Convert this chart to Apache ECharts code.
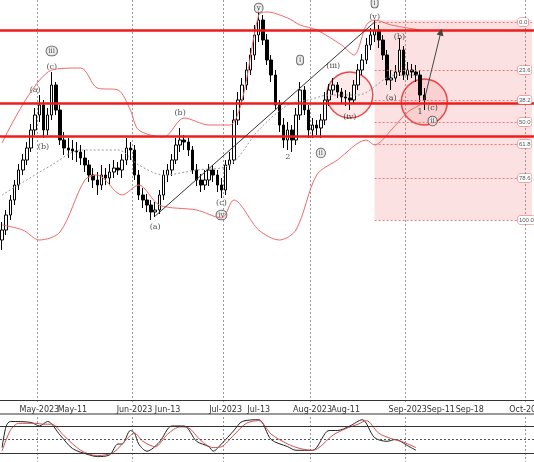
<!DOCTYPE html>
<html>
<head>
<meta charset="utf-8">
<script src="https://cdn.jsdelivr.net/npm/echarts@6/dist/echarts.min.js"></script>
<style>html,body{margin:0;padding:0;background:#fff;overflow:hidden}#main{width:534px;height:462px}</style>
</head>
<body>
<div id="main"></div>
<script>
// trading days from Apr-18-2023; after the last candle the projection uses calendar days
var startDate = '2023-04-18';
var calendarFrom = '2023-09-09';
var dayCount = 129;

var axisLabels = {
  '2023-05-01': 'May-2023', '2023-05-11': 'May-11', '2023-06-01': 'Jun-2023', '2023-06-13': 'Jun-13',
  '2023-07-03': 'Jul-2023', '2023-07-13': 'Jul-13', '2023-08-01': 'Aug-2023', '2023-08-11': 'Aug-11',
  '2023-09-01': 'Sep-2023', '2023-09-11': 'Sep-11', '2023-09-18': 'Sep-18', '2023-10-02': 'Oct-2023'
};
var monthStarts = ['2023-05-01', '2023-06-01', '2023-07-03', '2023-08-01', '2023-09-01', '2023-10-02'];

// [open, close, low, high]
var candles = [
  [160,170,150,178],[170,185,165,190],[185,200,180,205],[200,215,195,220],[215,230,210,236],
  [230,240,225,246],[240,252,235,258],[252,270,248,276],[270,285,265,292],[285,295,278,305],
  [295,270,262,300],[270,285,265,292],[285,315,280,328],[315,290,285,318],[290,260,255,295],
  [260,252,245,268],[252,250,242,262],[251,249,240,260],[249,248,238,258],[248,242,235,255],
  [242,235,228,250],[235,225,218,240],[225,220,212,232],[220,215,205,228],[215,225,210,235],
  [225,222,215,232],[222,228,215,236],[228,232,222,240],[232,230,225,238],[230,240,222,246],
  [240,252,235,262],[252,250,240,258],[250,225,220,255],[225,205,200,230],[205,200,192,212],
  [200,195,188,206],[195,188,180,200],[188,190,183,198],[190,205,186,210],[205,225,200,230],
  [225,230,218,236],[230,240,224,246],[240,255,236,262],[255,260,248,272],[260,258,250,265],
  [258,250,244,262],[250,230,226,254],[230,220,214,236],[220,215,208,226],[215,220,210,230],
  [220,230,214,236],[230,225,218,235],[225,215,208,230],[215,210,202,222],[210,235,205,240],
  [235,240,230,248],[240,280,236,290],[280,300,275,308],[300,315,295,322],[315,330,310,338],
  [330,345,325,352],[345,365,340,375],[365,380,358,392],[380,360,355,385],[360,340,335,366],
  [340,325,318,345],[325,295,290,330],[295,275,268,300],[275,260,252,282],[260,270,250,278],
  [270,260,248,275],[260,285,255,292],[285,310,280,318],[310,290,285,314],[290,270,262,295],
  [270,275,262,282],[275,272,265,280],[272,280,262,286],[280,300,275,308],[300,310,294,316],
  [310,315,305,322],[315,308,302,318],[308,303,296,312],[303,302,294,310],[302,300,290,308],
  [300,315,296,320],[315,330,310,336],[330,340,325,346],[340,355,336,362],[355,365,350,372],
  [365,370,358,380],[370,360,352,375],[360,345,340,365],[345,320,315,350],[320,322,310,330],
  [322,328,318,335],[328,350,324,362],[350,325,320,354],[325,330,320,338],[330,328,322,336],
  [328,325,318,335],[325,305,298,330],[305,300,290,312]
];

var bbUpper = [[0,257],[12,330],[19,332],[23,312],[28,310],[31,290],[33,270],[39,263],[44,282],[50,275],[55,275],[58,300],[62,385],[64,388],[69,382],[72,375],[76,370],[82,355],[85,345],[88,375],[90,380],[94,375],[101,370]];
var bbLower = [[0,175],[5,170],[9,160],[14,168],[20,220],[23,225],[29,205],[33,215],[38,195],[47,190],[53,182],[56,200],[62,170],[67,160],[71,170],[76,225],[81,240],[88,260],[90,255],[94,270],[98,288],[101,295]];
var bbMiddle = [[0,205],[12,235],[19,250],[28,250],[33,235],[39,225],[47,230],[55,235],[62,270],[69,295],[74,300],[79,305],[86,305],[95,325],[101,325]];

var hLevels = [370, 297, 264];
var fibLevels = [378, 330, 300, 278, 256, 222, 180];
var fibNames = ['0.0', '23.6', '38.2', '50.0', '61.8', '78.6', '100.0'];

var waveLabels = [
  [8,310,'(a)'],[10,253,'(b)'],[12,333,'(c)'],[12,349,'iii',1],[37,173,'(a)'],[43,287,'(b)'],
  [53,197,'(c)'],[53,185,'iv',1],[62,392,'v',1],[69,243,'2'],[72,340,'i',1],[77,247,'ii',1],
  [80,334,'(iii)'],[84,283,'(iv)'],[90,383,'(v)'],[90,397,'i',1],[94,302,'(a)'],[96,363,'(b)'],
  [104,292,'(c)'],[104,279,'ii',1],[101,288,'1']
];
var circles = [[84,305],[102,298]];

var stochK = [[0,32],[1,80],[2,90],[7,88],[9,80],[11,90],[14,60],[17,30],[21,16],[23,12],[26,16],[28,40],[29,40],[31,70],[32,64],[33,40],[35,24],[38,44],[41,80],[44,80],[47,46],[50,34],[51,24],[53,40],[56,70],[58,90],[62,94],[65,50],[69,34],[71,26],[75,26],[79,70],[81,70],[84,80],[87,94],[90,54],[93,46],[95,50],[98,36],[100,26]];
var stochD = [[0,25],[2,70],[4,86],[8,86],[10,84],[12,84],[15,58],[19,26],[23,14],[27,22],[30,50],[32,64],[34,46],[37,34],[40,62],[43,78],[45,76],[48,48],[51,32],[53,34],[56,60],[59,86],[62,92],[65,62],[69,40],[72,30],[75,26],[80,60],[83,74],[86,84],[88,92],[91,64],[94,52],[97,44],[100,32]];

var days = [];
var d = new Date(startDate + 'T00:00:00Z');
while (days.length < dayCount) {
  var s = d.toISOString().slice(0, 10);
  var wd = d.getUTCDay();
  if (s >= calendarFrom || (wd !== 0 && wd !== 6)) days.push(s);
  d.setUTCDate(d.getUTCDate() + 1);
}

var chart = echarts.init(document.getElementById('main'));
var font = 'DejaVu Sans';
var gridSplit = {
  show: true,
  interval: function (i, v) { return monthStarts.indexOf(v) >= 0; },
  lineStyle: { color: '#999', type: [2, 2], width: 1 }
};

var option = {
  animation: false,
  grid: [
    { left: 0, right: 0, top: 0, height: 404, outerBoundsMode: 'none' },
    { left: 0, right: 0, top: 417, height: 45, outerBoundsMode: 'none' }
  ],
  xAxis: [{
    type: 'category', data: days, gridIndex: 0,
    axisLine: { lineStyle: { color: '#333' } },
    axisTick: { show: false },
    axisLabel: {
      interval: 0,
      formatter: function (v) { return axisLabels[v] || ''; },
      hideOverlap: false,
      fontSize: 8, color: '#333', fontFamily: font, margin: 2
    },
    splitLine: gridSplit
  }, {
    type: 'category', data: days, gridIndex: 1,
    axisLine: { show: false }, axisTick: { show: false }, axisLabel: { show: false },
    splitLine: gridSplit
  }],
  yAxis: [{
    gridIndex: 0, min: -4, max: 400, show: false, splitLine: { show: false }
  }, {
    gridIndex: 1, min: 0, max: 100, axisLabel: { show: false }, axisTick: { show: false },
    axisLine: { show: false }, splitLine: { show: false }
  }],
  series: [
    {
      type: 'candlestick', data: candles, barWidth: 3,
      itemStyle: { color: '#fff', color0: '#000', borderColor: '#000', borderColor0: '#000', borderWidth: 1 },
      markArea: {
        silent: true,
        itemStyle: { color: 'rgba(235,120,120,0.22)' },
        data: [[{ xAxis: 90, yAxis: 380 }, { xAxis: 128, yAxis: 180 }]]
      },
      markLine: {
        silent: true, symbol: 'none',
        data: hLevels.map(function (v) {
          return { yAxis: v, lineStyle: { color: '#ee1c1c', width: 2.5, type: 'solid' }, label: { show: false } };
        }).concat(fibLevels.map(function (v, i) {
          return [{ xAxis: 90, yAxis: v, lineStyle: { color: '#e06060', width: 0.8, type: [2, 2] },
                    label: { show: true, position: 'end', formatter: fibNames[i], fontSize: 6, color: '#555',
                             backgroundColor: '#fff', borderColor: '#e06060', borderWidth: 0.5, borderRadius: 2, padding: [1, 1], distance: -14 } },
                  { xAxis: 128, yAxis: v }];
        })).concat([
          [{ coord: [37, 184], lineStyle: { color: '#333', width: 1, type: 'solid' }, label: { show: false } }, { coord: [90, 378] }],
          [{ coord: [102, 300], symbol: 'none', lineStyle: { color: '#444', width: 1, type: 'solid' }, label: { show: false } },
           { coord: [106, 368], symbol: 'triangle', symbolSize: 7 }]
        ])
      }
    },
    { type: 'line', data: bbUpper, smooth: 0.3, symbol: 'none', lineStyle: { color: '#f06868', width: 1 } },
    { type: 'line', data: bbLower, smooth: 0.3, symbol: 'none', lineStyle: { color: '#f06868', width: 1 } },
    { type: 'line', data: bbMiddle, smooth: 0.3, symbol: 'none', lineStyle: { color: '#999', width: 1, type: [2, 2] } },
    {
      type: 'scatter', data: circles, symbol: 'circle', symbolSize: 46,
      itemStyle: { color: 'rgba(240,100,100,0.18)', borderColor: '#e52020', borderWidth: 1.5 }, z: 1
    },
    {
      type: 'scatter', symbolSize: 0,
      data: waveLabels.map(function (w) { return { value: [w[0], w[1]], name: w[2], circ: w[3] }; }),
      label: {
        show: true, position: 'inside', fontFamily: 'DejaVu Serif', fontSize: 8, color: '#222',
        formatter: function (p) { return p.data.circ ? '{c|' + p.name + '}' : p.name; },
        rich: { c: { borderColor: '#333', borderWidth: 0.8, borderRadius: 6, padding: [1, 2], fontSize: 7, backgroundColor: '#eee', fontFamily: 'DejaVu Serif' } }
      }
    },
    {
      type: 'line', xAxisIndex: 1, yAxisIndex: 1, data: stochK, symbol: 'none', smooth: 0.3,
      lineStyle: { color: '#222', width: 1 },
      markLine: {
        silent: true, symbol: 'none', label: { show: false },
        data: [
          { yAxis: 80, lineStyle: { color: '#333', width: 1, type: 'solid' } },
          { yAxis: 50, lineStyle: { color: '#555', width: 1, type: [2, 2] } },
          { yAxis: 20, lineStyle: { color: '#333', width: 1, type: 'solid' } }
        ]
      }
    },
    { type: 'line', xAxisIndex: 1, yAxisIndex: 1, data: stochD, symbol: 'none', smooth: 0.3, lineStyle: { color: '#d05050', width: 1 } }
  ],
  graphic: [{ type: 'line', shape: { x1: 0, y1: 414, x2: 534, y2: 414 }, style: { stroke: '#333', lineWidth: 1 } }]
};
chart.setOption(option);
</script>
</body>
</html>
